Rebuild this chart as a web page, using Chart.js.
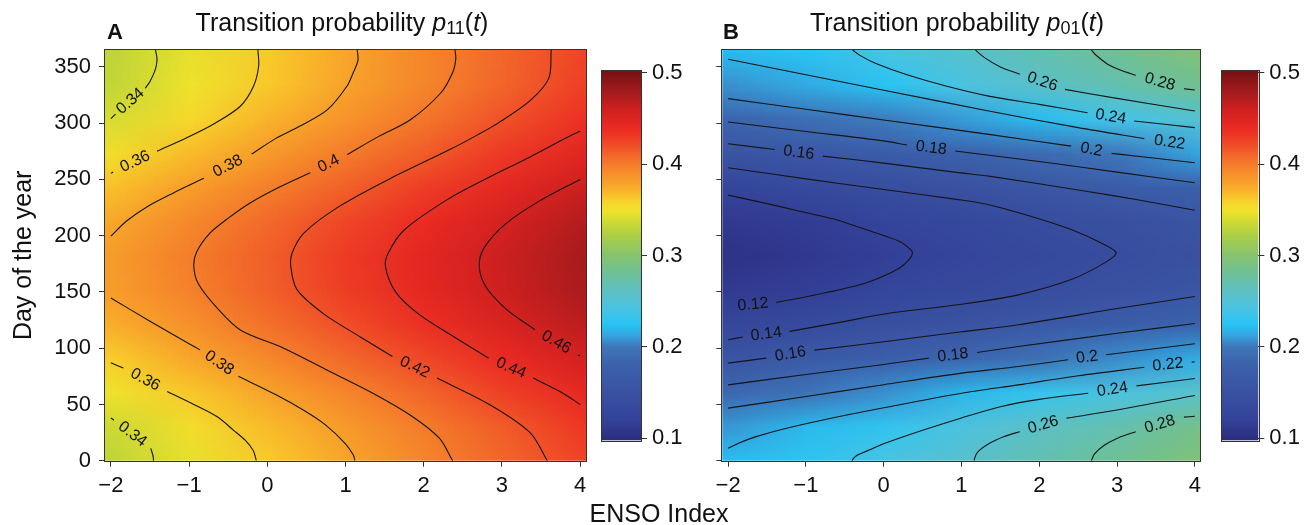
<!DOCTYPE html>
<html lang="en">
<head>
<meta charset="UTF-8" />
<title>Transition probabilities vs ENSO</title>
<script src="https://cdn.jsdelivr.net/npm/chart.js"></script>
<style>
  body { margin: 0; background: #fff; font-family: 'Liberation Sans', Arial, sans-serif; color: #111; }
  #wrap { position: relative; width: 1314px; height: 525px; overflow: hidden; }
  canvas { position: absolute; top: 0; }
  .txt { position: absolute; white-space: nowrap; line-height: 1; }
  .title { font-size: 25px; top: 10px; transform: translateX(-50%); }
  .tag { font-size: 22px; font-weight: bold; top: 21px; }
  .sub { font-size: 18px; position: relative; top: 3px; }
  .xlab { font-size: 25px; top: 501px; transform: translateX(-50%); }
</style>
</head>
<body>
<div id="wrap">
  <canvas id="plotA" width="600" height="525" style="left:0px"></canvas>
  <canvas id="barA" width="100" height="525" style="left:595px"></canvas>
  <canvas id="plotB" width="550" height="525" style="left:657px"></canvas>
  <canvas id="barB" width="99" height="525" style="left:1215px"></canvas>
  <div class="txt tag" style="left:107px">A</div>
  <div class="txt title" style="left:342px">Transition probability <i>p</i><span class="sub">11</span>(<i>t</i>)</div>
  <div class="txt tag" style="left:723px">B</div>
  <div class="txt title" style="left:957px">Transition probability <i>p</i><span class="sub">01</span>(<i>t</i>)</div>
  <div class="txt xlab" style="left:659px">ENSO Index</div>
</div>

<script>
  Chart.defaults.font.family = "'Liberation Sans', Arial, sans-serif"
  Chart.defaults.color = '#111'

  // grid the two surfaces were read on
  const ensoValues = [-2, -1, 0, 1, 2, 3, 4]
  const dayValues = [0, 30.4, 60.8, 91.3, 121.7, 152.1, 182.5, 212.9, 243.3, 273.8, 304.2, 334.6, 365]

  // p11(t), one row per day value, one column per ENSO value
  const p11Grid = [
    [0.331, 0.346, 0.362, 0.378, 0.394, 0.410, 0.425],
    [0.336, 0.352, 0.368, 0.384, 0.400, 0.415, 0.431],
    [0.348, 0.363, 0.379, 0.395, 0.411, 0.427, 0.442],
    [0.361, 0.377, 0.393, 0.409, 0.424, 0.440, 0.456],
    [0.374, 0.389, 0.405, 0.421, 0.437, 0.453, 0.468],
    [0.382, 0.397, 0.413, 0.429, 0.445, 0.461, 0.476],
    [0.383, 0.399, 0.414, 0.430, 0.446, 0.462, 0.478],
    [0.377, 0.393, 0.409, 0.425, 0.440, 0.456, 0.472],
    [0.366, 0.382, 0.398, 0.413, 0.429, 0.445, 0.461],
    [0.352, 0.368, 0.384, 0.400, 0.415, 0.431, 0.447],
    [0.340, 0.356, 0.371, 0.387, 0.403, 0.419, 0.435],
    [0.332, 0.348, 0.363, 0.379, 0.395, 0.411, 0.427],
    [0.331, 0.346, 0.362, 0.378, 0.394, 0.410, 0.425]
  ]

  // p01(t)
  const p01Grid = [
    [0.223, 0.228, 0.242, 0.255, 0.269, 0.282, 0.295],
    [0.209, 0.221, 0.230, 0.245, 0.260, 0.270, 0.286],
    [0.186, 0.196, 0.207, 0.220, 0.232, 0.244, 0.256],
    [0.156, 0.166, 0.174, 0.184, 0.195, 0.206, 0.216],
    [0.130, 0.137, 0.147, 0.154, 0.163, 0.172, 0.180],
    [0.113, 0.117, 0.127, 0.133, 0.141, 0.149, 0.157],
    [0.105, 0.111, 0.118, 0.126, 0.133, 0.140, 0.148],
    [0.112, 0.115, 0.126, 0.131, 0.140, 0.146, 0.155],
    [0.127, 0.135, 0.142, 0.150, 0.159, 0.168, 0.177],
    [0.153, 0.160, 0.169, 0.178, 0.189, 0.200, 0.212],
    [0.183, 0.192, 0.201, 0.210, 0.222, 0.238, 0.251],
    [0.207, 0.215, 0.225, 0.243, 0.257, 0.269, 0.283],
    [0.222, 0.226, 0.242, 0.255, 0.269, 0.282, 0.295]
  ]

  const ensoTicks = [-2, -1, 0, 1, 2, 3, 4]
  const dayTicks = [0, 50, 100, 150, 200, 250, 300, 350]
  const barTicks = [0.1, 0.2, 0.3, 0.4, 0.5]

  // contour lines [ENSO, day]; null = gap where the level label sits
  const a034top = [[-1.43,365],[-1.41,357],[-1.43,348],[-1.50,337],[-1.56,331],null,[-1.94,308],[-2.0,304]]
  const a034bot = [[-2.0,38],[-1.96,36],null,[-1.49,11],[-1.46,4],[-1.455,0]]
  const a036top = [[-0.12,365],[-0.11,351],[-0.175,333],[-0.345,315],[-0.69,299],[-1.03,287],[-1.41,275],null,[-1.97,256.5],[-2.0,255.5]]
  const a036bot = [[-2.0,87],[-1.84,82.3],null,[-1.28,61.5],[-0.94,50],[-0.64,39],[-0.43,27],[-0.28,18],[-0.18,9],[-0.14,0]]
  const a038top = [[1.15,365],[1.16,356],[1.10,345],[1.02,333],[0.77,312],[0.42,297.4],[0.10,286],[-0.20,272.5],null,[-0.81,251],[-1.20,238],[-1.53,226],[-1.80,213],[-2.0,199.5]]
  const a038bot = [[-2.0,144.6],[-1.5,124],[-1.0,104],[-0.86,98.5],null,[-0.37,75],[0.1,59],[0.46,45],[0.74,32],[1.0,15],[1.1,5],[1.12,0]]
  const a040 = [[2.40,365],[2.41,357],[2.37,345],[2.22,327],[1.83,303],[1.42,288],[1.02,272],null,[0.55,256],[0.15,243],[-0.22,229],[-0.49,216],[-0.73,202.5],[-0.90,186],[-0.94,173],[-0.88,157],[-0.62,134],[-0.34,116],[0.21,100],[0.78,80],[1.35,60],[1.84,40],[2.20,20],[2.37,0]]
  const a042 = [[3.63,365],[3.60,340],[3.36,320],[2.95,300],[2.70,290],[2.34,276.7],[1.55,250],[0.92,226],[0.47,202.5],[0.32,185],[0.30,172.7],[0.38,152],[0.73,130],[1.19,110],[1.60,92.6],null,[2.17,73.4],[2.84,50],[3.36,25],[3.58,0]]
  const a044 = [[4.0,293],[3.77,285],[3.36,270],[2.78,250],[2.30,232],[1.75,205],[1.55,185],[1.51,172.7],[1.64,150],[1.94,130],[2.39,110],[2.83,91.2],null,[3.40,73.4],[3.78,60],[4.0,50]]
  const a046 = [[4.0,250],[3.46,230],[3.04,210],[2.78,190],[2.71,174],[2.79,155],[3.05,135],[3.42,116.4],null,[3.97,94],[4.0,93]]

  const b012 = [[-2.0,236],[-1.5,228.5],[-1.08,221.7],[-0.6,214],[-0.23,205.4],[0.2,195],[0.34,188],[0.37,184.7],[0.34,180],[0.2,171],[-0.23,158],[-0.87,147.5],[-1.38,140.7],null,[-1.98,136.8]]
  const b014 = [[-2.0,260.4],[-1.0,250.5],[0.0,241],[0.96,232],[1.35,227.5],[1.9,217],[2.41,205.4],[2.84,192],[2.99,184.5],[2.84,175.8],[2.41,161],[1.73,147.4],[1.0,139],[0.07,131],[-0.6,122.5],[-1.21,114.9],null,[-1.81,109.9],[-2.0,107.5]]
  const b016top = [[-2.0,281.7],[-1.40,276.6],null,[-0.785,270.7],[0.0,264.5],[0.96,256],[1.35,252.9],[2.6,239.5],[3.3,231.5],[4.0,222.6]]
  const b016bot = [[-2.0,86.7],[-1.51,91.2],null,[-0.89,98.3],[0.0,105.7],[1.0,114.6],[1.73,120.8],[3.0,135.2],[4.0,146]]
  const b018top = [[-2.0,301],[-1.0,292.6],[0.0,284.2],[0.30,280.5],null,[0.92,275.2],[2.0,265.9],[3.0,256.5],[4.0,247]]
  const b018bot = [[-2.0,67.4],[-1.0,76.6],[0.0,85.5],[0.58,91.2],null,[1.20,96.2],[1.73,101.5],[3.0,113.2],[4.0,122]]
  const b020top = [[-2.0,321.8],[-1.0,312.3],[0.0,302.8],[1.35,290],[2.41,279.6],null,[2.93,273.1],[4.0,264.8]]
  const b020bot = [[-2.0,46.7],[-1.0,57],[0.0,67.5],[1.0,77.8],[1.73,83.7],[2.37,89.7],null,[2.86,94.1],[4.0,104]]
  const b022top = [[-2.0,356.8],[-1.0,343],[0.0,329.3],[1.35,310.8],[2.5,296],[3.35,286.2],null,[4.0,279.5]]
  const b022bot = [[-2.0,11],[-1.85,16],[-1.64,21.4],[-1.3,28],[-0.78,36.2],[0.0,47],[1.0,60],[1.73,67.4],[2.5,75.5],[3.35,83.1],null,[3.96,87.6],[4.0,87.9]]
  const b024top = [[-0.40,365],[-0.3,360],[-0.1,353],[0.3,343],[0.8,333],[1.35,324],[2.0,316.7],[2.62,309.3],null,[3.22,301.9],[4.0,296]]
  const b024bot = [[-0.41,0],[-0.36,4],[-0.2,9],[0.0,15],[0.5,27],[1.0,38],[1.5,48],[2.0,54.5],[2.63,60],null,[3.25,66.5],[4.0,73]]
  const b026top = [[1.18,365],[1.3,358],[1.5,350],[1.75,343.4],null,[2.33,330],[3.0,322],[4.0,310.8]]
  const b026bot = [[1.16,0],[1.2,7],[1.35,15],[1.55,21.5],[1.75,25.8],null,[2.35,37.8],[3.0,45],[4.0,58]]
  const b028top = [[2.67,365],[2.72,361],[2.88,352.4],[3.05,347],[3.24,342.6],null,[3.86,330.5],[4.0,329.5]]
  const b028bot = [[2.67,0],[2.71,6],[2.84,14],[3.02,20.5],[3.24,25.8],null,[3.86,38.7],[4.0,39.5]]

  const contoursA = [
    ['0.34', a034top], ['0.34', a034bot], ['0.36', a036top], ['0.36', a036bot],
    ['0.38', a038top], ['0.38', a038bot], ['0.4', a040], ['0.42', a042],
    ['0.44', a044], ['0.46', a046]
  ]
  const contoursB = [
    ['0.12', b012], ['0.14', b014], ['0.16', b016top], ['0.16', b016bot],
    ['0.18', b018top], ['0.18', b018bot], ['0.2', b020top], ['0.2', b020bot],
    ['0.22', b022top], ['0.22', b022bot], ['0.24', b024top], ['0.24', b024bot],
    ['0.26', b026top], ['0.26', b026bot], ['0.28', b028top], ['0.28', b028bot]
  ]

  // colour scale of the figure
  const paletteStops = [
    [0.100, '#2c2f80'], [0.120, '#34429a'], [0.150, '#3a52a1'], [0.180, '#3c62ac'],
    [0.200, '#3f77ba'], [0.212, '#35a3df'], [0.225, '#27c4f3'], [0.240, '#48c3e6'],
    [0.260, '#5dc0c4'], [0.280, '#6dc098'], [0.300, '#86c36e'], [0.320, '#a8cd48'],
    [0.335, '#c9d834'], [0.348, '#eee22b'], [0.358, '#f8d52b'], [0.370, '#f9b42b'],
    [0.380, '#f8a02a'], [0.390, '#f68e2b'], [0.400, '#f47b2a'], [0.410, '#f2662a'],
    [0.420, '#f04f28'], [0.430, '#ee3a25'], [0.440, '#ea2a23'], [0.460, '#d02020'],
    [0.480, '#a31b1d'], [0.500, '#7a1214']
  ]

  function hexRgb(h) {
    return [parseInt(h.slice(1, 3), 16), parseInt(h.slice(3, 5), 16), parseInt(h.slice(5, 7), 16)]
  }

  function colourFor(v) {
    const s = paletteStops
    if (v <= s[0][0]) return hexRgb(s[0][1])
    for (let i = 1; i < s.length; i++) {
      if (v <= s[i][0]) {
        const t = (v - s[i - 1][0]) / (s[i][0] - s[i - 1][0])
        const a = hexRgb(s[i - 1][1]), b = hexRgb(s[i][1])
        return a.map((c, k) => Math.round(c + (b[k] - c) * t))
      }
    }
    return hexRgb(s[s.length - 1][1])
  }

  function heatPlugin(grid) {
    return {
      id: 'heat',
      beforeDatasetsDraw(chart) {
        const { ctx, chartArea: area, scales: { x, y } } = chart
        const nc = ensoValues.length, nr = dayValues.length
        const img = document.createElement('canvas')
        img.width = nc
        img.height = nr
        const ic = img.getContext('2d')
        const pix = ic.createImageData(nc, nr)
        for (let r = 0; r < nr; r++) {
          for (let c = 0; c < nc; c++) {
            const rgb = colourFor(grid[r][c])
            const k = ((nr - 1 - r) * nc + c) * 4
            pix.data[k] = rgb[0]; pix.data[k + 1] = rgb[1]; pix.data[k + 2] = rgb[2]; pix.data[k + 3] = 255
          }
        }
        ic.putImageData(pix, 0, 0)
        const hx = (ensoValues[1] - ensoValues[0]) / 2
        const hy = (dayValues[1] - dayValues[0]) / 2
        const x0 = x.getPixelForValue(ensoValues[0] - hx)
        const x1 = x.getPixelForValue(ensoValues[nc - 1] + hx)
        const y0 = y.getPixelForValue(dayValues[nr - 1] + hy)
        const y1 = y.getPixelForValue(dayValues[0] - hy)
        ctx.save()
        ctx.beginPath()
        ctx.rect(area.left, area.top, area.width, area.height)
        ctx.clip()
        ctx.imageSmoothingEnabled = true
        ctx.drawImage(img, x0, y0, x1 - x0, y1 - y0)
        ctx.restore()
      }
    }
  }

  const contourLabels = {
    id: 'contourLabels',
    afterDatasetsDraw(chart) {
      const ctx = chart.ctx
      ctx.save()
      ctx.font = "16px 'Liberation Sans', Arial, sans-serif"
      ctx.fillStyle = '#111'
      ctx.textAlign = 'center'
      ctx.textBaseline = 'middle'
      chart.data.datasets.forEach((ds, i) => {
        const pts = chart.getDatasetMeta(i).data
        ds.data.forEach((d, j) => {
          if (d.x !== null || j === 0) return
          const a = pts[j - 1], b = pts[j + 1]
          let ang = Math.atan2(b.y - a.y, b.x - a.x)
          if (ang > Math.PI / 2) ang -= Math.PI
          if (ang < -Math.PI / 2) ang += Math.PI
          ctx.save()
          ctx.translate((a.x + b.x) / 2, (a.y + b.y) / 2)
          ctx.rotate(ang)
          ctx.fillText(ds.label, 0, 0)
          ctx.restore()
        })
      })
      ctx.restore()
    }
  }

  const frame = {
    id: 'frame',
    afterDraw(chart) {
      const { ctx, chartArea: a } = chart
      ctx.save()
      ctx.strokeStyle = '#333'
      ctx.lineWidth = 1
      ctx.strokeRect(Math.round(a.left) - 0.5, Math.round(a.top) - 0.5, Math.round(a.width) + 1, Math.round(a.height) + 1)
      ctx.restore()
    }
  }

  const colourBar = {
    id: 'colourBar',
    beforeDatasetsDraw(chart) {
      const { ctx, chartArea: a, scales: { y } } = chart
      const first = paletteStops[0][0], last = paletteStops[paletteStops.length - 1][0]
      const g = ctx.createLinearGradient(0, y.getPixelForValue(first), 0, y.getPixelForValue(last))
      paletteStops.forEach(([v, c]) => g.addColorStop((v - first) / (last - first), c))
      ctx.save()
      ctx.fillStyle = g
      ctx.fillRect(a.left, a.top, a.width, a.height)
      ctx.restore()
    }
  }

  const toPoints = arr => arr.map(p => p ? { x: p[0], y: p[1] } : { x: null, y: null })
  const minusSign = v => String(v).replace('-', '\u2212')

  function plotChart(id, grid, contours, yWidth, rightPad, showDays) {
    return new Chart(document.getElementById(id), {
      type: 'scatter',
      data: {
        datasets: contours.map(([lvl, pts]) => ({
          label: lvl,
          data: toPoints(pts),
          showLine: true,
          spanGaps: false,
          borderColor: '#151515',
          borderWidth: 1.1,
          pointRadius: 0,
          tension: 0.3
        }))
      },
      options: {
        responsive: false,
        animation: false,
        layout: { padding: { left: 0, right: rightPad, top: 50, bottom: 24.3 } },
        plugins: { legend: { display: false }, tooltip: { enabled: false } },
        scales: {
          x: {
            type: 'linear', min: -2.075, max: 4.075,
            afterBuildTicks: s => { s.ticks = ensoTicks.map(v => ({ value: v })) },
            afterFit: s => { s.height = 40 },
            grid: { drawOnChartArea: false, tickLength: 6, color: '#333' },
            border: { display: false },
            ticks: { font: { size: 22 }, padding: 6, color: '#111', maxRotation: 0, autoSkip: false, callback: v => minusSign(v) }
          },
          y: {
            type: 'linear', min: 0, max: 365,
            afterBuildTicks: s => { s.ticks = dayTicks.map(v => ({ value: v })) },
            afterFit: s => { s.width = yWidth },
            grid: { drawOnChartArea: false, tickLength: 6, color: '#333' },
            border: { display: false },
            ticks: { font: { size: 22 }, padding: 8, color: '#111', autoSkip: false, callback: v => showDays ? String(v) : '' },
            title: { display: showDays, text: 'Day of the year', font: { size: 25 }, color: '#111', padding: { top: 9, bottom: 0 } }
          }
        }
      },
      plugins: [heatPlugin(grid), contourLabels, frame]
    })
  }

  function barChart(id, yWidth) {
    return new Chart(document.getElementById(id), {
      type: 'scatter',
      data: { datasets: [] },
      options: {
        responsive: false,
        animation: false,
        layout: { padding: { left: 6.7, right: 0, top: 70.7, bottom: 84.7 } },
        plugins: { legend: { display: false }, tooltip: { enabled: false } },
        scales: {
          x: { display: false, min: 0, max: 1 },
          y: {
            position: 'right', min: 0.0975, max: 0.5025,
            afterBuildTicks: s => { s.ticks = barTicks.map(v => ({ value: v })) },
            afterFit: s => { s.width = yWidth },
            grid: { drawOnChartArea: false, tickLength: 6, color: '#333' },
            border: { display: false },
            ticks: { font: { size: 22 }, padding: 5, color: '#111', callback: v => v.toFixed(1) }
          }
        }
      },
      plugins: [colourBar, frame]
    })
  }

  plotChart('plotA', p11Grid, contoursA, 105, 14, true)
  plotChart('plotB', p01Grid, contoursB, 65.3, 4.3, false)
  barChart('barA', 54)
  barChart('barB', 55.7)
</script>
</body>
</html>
